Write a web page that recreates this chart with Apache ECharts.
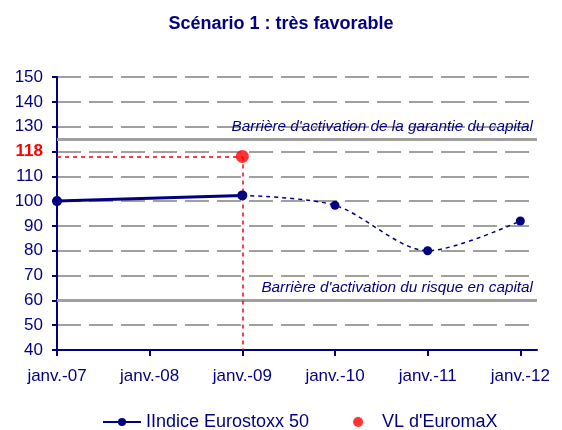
<!DOCTYPE html>
<html><head><meta charset="utf-8">
<script src="https://cdn.jsdelivr.net/npm/echarts@6/dist/echarts.min.js"></script>
<style>html,body{margin:0;padding:0;background:#fff}#c{width:562px;height:430px}</style>
</head><body><div id="c"></div>
<script>
var title = "Scénario 1 : très favorable";
var xYears = [2007, 2008, 2009, 2010, 2011, 2012];
var xTickLabels = ["janv.-07", "janv.-08", "janv.-09", "janv.-10", "janv.-11", "janv.-12"];
var indiceName = "IIndice Eurostoxx 50";
var indiceHist = [[2007, 100], [2009, 102.3]];
var indiceProj = [[2009, 102.3], [2010, 98.3], [2011, 80], [2012, 92]];
var vlName = "VL d'EuromaX";
var vlPoint = [[2009, 118]];
var vlValue = 118;
var barrierCapital = 125;
var barrierCapitalLabel = "Barrière d'activation de la garantie du capital";
var barrierRisk = 60;
var barrierRiskLabel = "Barrière d'activation du risque en capital";
var yMin = 40, yMax = 150, yStep = 10;

var navy = '#000080', red = '#ff0000', gray = '#a0a0a0';
var font = 'Liberation Sans, Arial, sans-serif';
var chart = echarts.init(document.getElementById('c'), null, {renderer: 'canvas'});
chart.setOption({
  animation: false,
  backgroundColor: '#fff',
  title: {text: title, left: 'center', top: 10,
    textStyle: {fontFamily: font, fontSize: 18, fontWeight: 'bold', color: navy}},
  grid: {left: 57, right: 25, top: 77, bottom: 80, containLabel: false},
  legend: {top: 408, left: 97, itemGap: 44, itemWidth: 38, itemHeight: 10,
    textStyle: {fontFamily: font, fontSize: 18, color: navy},
    data: [{name: indiceName}, {name: vlName, icon: 'circle', itemStyle: {color: red}}]},
  xAxis: {type: 'value', min: xYears[0], max: 2012.18, interval: 1,
    axisLine: {lineStyle: {color: navy, width: 2}},
    axisTick: {length: 6, lineStyle: {color: navy, width: 2}},
    splitLine: {show: false},
    axisLabel: {showMaxLabel: false, margin: 18, fontFamily: font, fontSize: 17, color: navy,
      formatter: function (v) { var i = xYears.indexOf(Math.round(v * 100) / 100); return i >= 0 ? xTickLabels[i] : ''; }}},
  yAxis: {type: 'value', min: yMin, max: yMax, interval: yStep,
    axisLine: {show: true, lineStyle: {color: navy, width: 2}},
    axisTick: {show: true, length: 5, lineStyle: {color: navy, width: 2}},
    splitLine: {lineStyle: {color: gray, width: 2, type: [24, 8]}},
    axisLabel: {margin: 14, fontFamily: font, fontSize: 17, color: navy,
      formatter: function (v) { return v === 120 ? '{r|' + vlValue + '}' : String(v); },
      rich: {r: {color: red, fontWeight: 'bold', fontSize: 17, fontFamily: font}}}},
  series: [
    {name: indiceName, type: 'line', data: indiceHist, symbol: 'circle', symbolSize: 10,
      lineStyle: {color: navy, width: 3}, itemStyle: {color: navy}, z: 5,
      markLine: {silent: true, symbol: 'none', animation: false,
        lineStyle: {color: gray, width: 3, type: 'solid'},
        label: {position: 'insideEndTop', distance: [4, 5], fontFamily: font, fontSize: 15.3,
          fontStyle: 'italic', color: navy},
        data: [
          {yAxis: barrierCapital, label: {formatter: barrierCapitalLabel}},
          {yAxis: barrierRisk, label: {formatter: barrierRiskLabel}}
        ]}},
    {name: indiceName, type: 'line', data: indiceProj, smooth: 0.3, symbol: 'circle', symbolSize: 9,
      lineStyle: {color: navy, width: 1.5, type: [4, 4]}, itemStyle: {color: navy}, z: 4},
    {name: vlName, type: 'scatter', data: vlPoint, symbol: 'circle', symbolSize: 13,
      itemStyle: {color: red}, z: 6,
      markLine: {silent: true, symbol: 'none', animation: false,
        lineStyle: {color: red, width: 1.5, type: [4, 4]}, label: {show: false},
        data: [
          [{coord: [xYears[0], vlValue]}, {coord: [vlPoint[0][0], vlValue]}],
          [{coord: [vlPoint[0][0], vlValue]}, {coord: [vlPoint[0][0], yMin]}]
        ]}}
  ]
});
</script></body></html>
